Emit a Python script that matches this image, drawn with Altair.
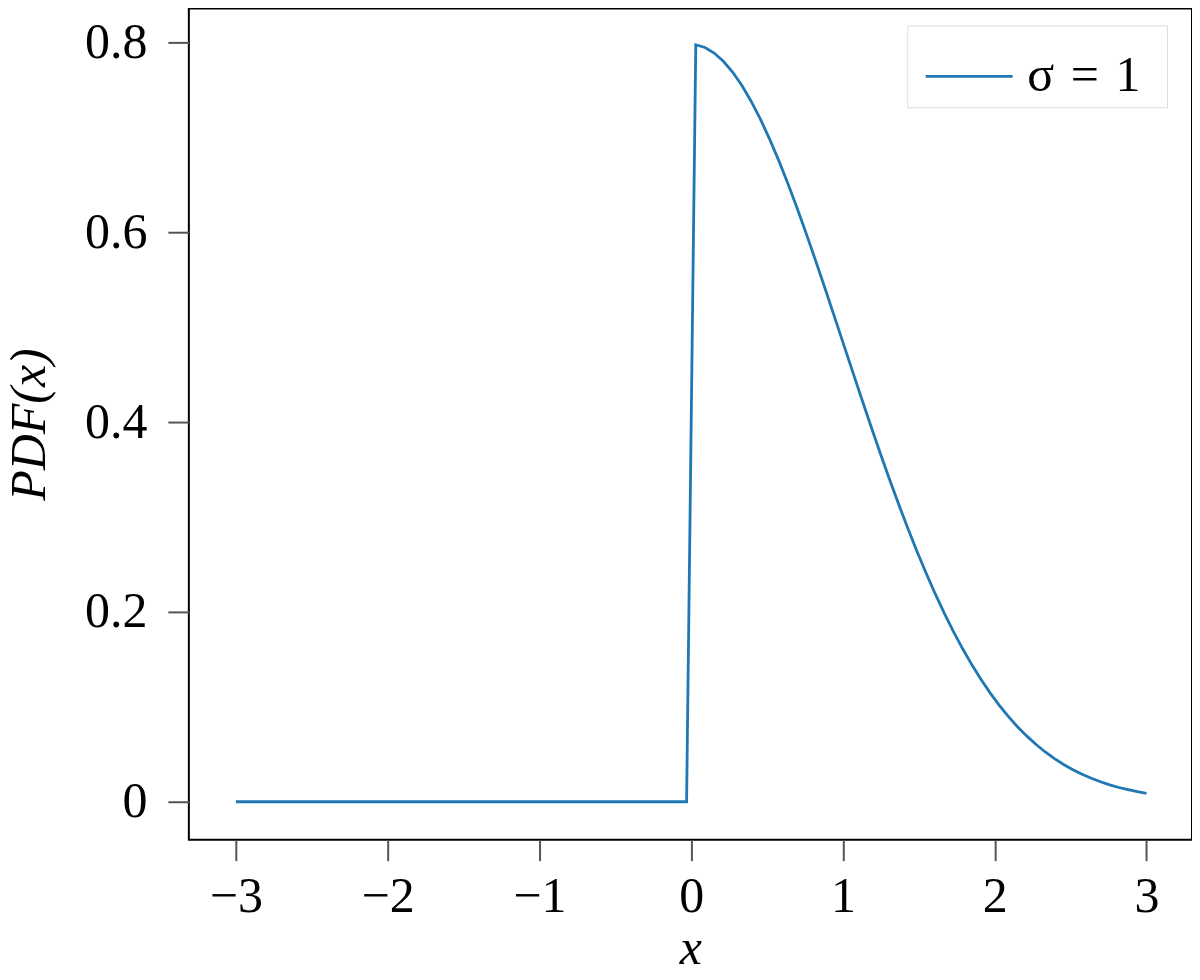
import altair as alt
import pandas as pd

# x positions of the sampled curve
x_vals = [-3.0, -0.0303,
          0.0303, 0.0909, 0.1515, 0.2121, 0.2727, 0.3333, 0.3939, 0.4545, 0.5152, 0.5758,
          0.6364, 0.6970, 0.7576, 0.8182, 0.8788, 0.9394, 1.0000, 1.0606, 1.1212, 1.1818,
          1.2424, 1.3030, 1.3636, 1.4242, 1.4848, 1.5455, 1.6061, 1.6667, 1.7273, 1.7879,
          1.8485, 1.9091, 1.9697, 2.0303, 2.0909, 2.1515, 2.2121, 2.2727, 2.3333, 2.3939,
          2.4545, 2.5152, 2.5758, 2.6364, 2.6970, 2.7576, 2.8182, 2.8788, 2.9394, 3.0000]
# PDF values
pdf_vals = [0.0, 0.0,
            0.7975, 0.7946, 0.7888, 0.7801, 0.7688, 0.7548, 0.7383, 0.7196, 0.6987, 0.6760,
            0.6516, 0.6258, 0.5988, 0.5709, 0.5423, 0.5132, 0.4839, 0.4547, 0.4256, 0.3969,
            0.3688, 0.3414, 0.3149, 0.2894, 0.2650, 0.2417, 0.2197, 0.1990, 0.1795, 0.1614,
            0.1445, 0.1290, 0.1147, 0.1016, 0.0897, 0.0788, 0.0691, 0.0603, 0.0524, 0.0454,
            0.0392, 0.0338, 0.0289, 0.0247, 0.0210, 0.0178, 0.0150, 0.0127, 0.0106, 0.0089]
series_name = "σ\u2004=\u20041"
x_ticks = [-3, -2, -1, 0, 1, 2, 3]
y_ticks = [0, 0.2, 0.4, 0.6, 0.8]

df = pd.DataFrame({"x": x_vals, "pdf": pdf_vals, "series": [series_name] * len(x_vals)})

FONT = "Liberation Serif"

chart = alt.Chart(df).mark_line(strokeWidth=2.8).encode(
    x=alt.X("x:Q",
            scale=alt.Scale(domain=[-3.31, 3.30], nice=False, zero=False),
            axis=alt.Axis(values=x_ticks, title="x", titleFontStyle="italic",
                          format="d", labelExpr="replace(datum.label, '-', '−')",
                          titlePadding=2)),
    y=alt.Y("pdf:Q",
            scale=alt.Scale(domain=[-0.04, 0.8358], nice=False, zero=False),
            axis=alt.Axis(values=y_ticks, title="PDF(x)", titleFontStyle="italic",
                          labelExpr="datum.value == 0 ? '0' : format(datum.value, '.1f')",
                          titlePadding=30)),
    color=alt.Color("series:N",
                    scale=alt.Scale(range=["#1f77b4"]),
                    legend=alt.Legend(title="\u00a0", titleOrient="right", titleFontSize=10,
                                      titlePadding=20,
                                      orient="none", legendX=719, legendY=17,
                                      symbolType="stroke", symbolSize=7569,
                                      symbolStrokeWidth=2.8, labelFontSize=50,
                                      labelFont=FONT, labelOffset=13, padding=6,
                                      symbolOffset=11, labelLimit=400,
                                      strokeColor="#dddddd", fillColor="white",
                                      symbolStrokeColor="#1f77b4")),
).properties(
    width=1004, height=832,
    padding={"left": 181, "top": 0, "right": 0, "bottom": 132},
    autosize=alt.AutoSizeParams(type="none"),
).configure_view(
    stroke="black", strokeWidth=2
).configure_axis(
    domain=False, grid=False,
    labelFont=FONT, labelFontSize=50, labelColor="black",
    titleFont=FONT, titleFontSize=50, titleColor="black", titleFontWeight="normal",
    tickColor="#555555", tickWidth=2, tickSize=21,
).configure_axisX(labelPadding=11).configure_axisY(labelPadding=21)

chart.save("out.html", embed_options={"renderer": "svg", "actions": False})
